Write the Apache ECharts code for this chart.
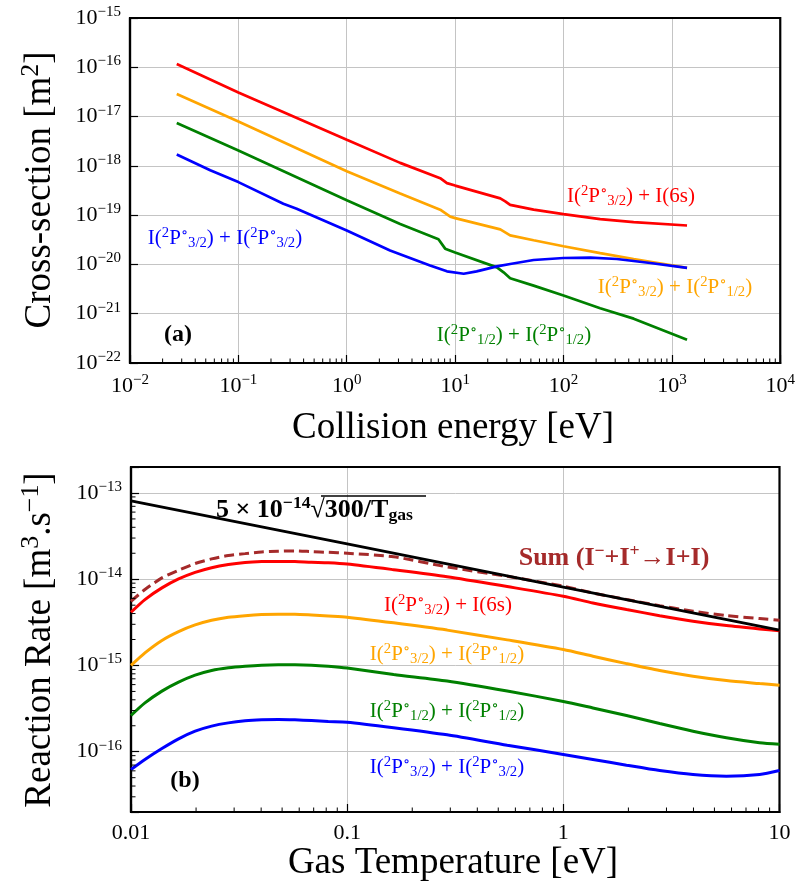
<!DOCTYPE html>
<html>
<head>
<meta charset="utf-8">
<script src="https://cdn.jsdelivr.net/npm/echarts@6/dist/echarts.min.js"></script>
<style>html,body{margin:0;padding:0;background:#fff}#c{width:798px;height:892px}</style>
</head>
<body>
<div id="c"></div>
<script>
// ---------- Panel (a): cross-sections [m^2] vs collision energy [eV] ----------
var energyRed    = [0.027, 0.1, 1, 3.11, 7.28, 8.4, 10, 26.1, 29, 32.2, 53, 100, 218, 444, 1380];
var sigmaRed     = [1.17e-16, 3.09e-17, 3.39e-18, 1.15e-18, 5.62e-19, 4.47e-19, 3.98e-19, 2.19e-19, 1.91e-19, 1.62e-19, 1.29e-19, 1.05e-19, 8.3e-20, 7.24e-20, 6.17e-20];
var energyOrange = [0.027, 0.1, 1, 3.11, 7.28, 9.02, 10, 26.1, 32.2, 53, 100, 218, 444, 1380];
var sigmaOrange  = [2.88e-17, 7.94e-18, 7.76e-19, 2.75e-19, 1.29e-19, 9.33e-20, 8.71e-20, 5.13e-20, 3.89e-20, 3.09e-20, 2.34e-20, 1.70e-20, 1.29e-20, 8.51e-21];
var energyGreen  = [0.027, 0.1, 1, 3.11, 7.02, 8.09, 10, 24.3, 28, 32.2, 53, 100, 218, 444, 1380];
var sigmaGreen   = [7.41e-18, 2.04e-18, 2.0e-19, 6.61e-20, 3.24e-20, 2.09e-20, 1.74e-20, 8.71e-21, 6.92e-21, 5.25e-21, 3.72e-21, 2.34e-21, 1.29e-21, 7.94e-22, 2.95e-22];
var energyBlue   = [0.027, 0.055, 0.1, 0.26, 0.345, 1, 2.51, 5.87, 8.4, 12, 15.8, 24.3, 32.2, 53, 100, 177, 311, 631, 1380];
var sigmaBlue    = [1.70e-18, 8.13e-19, 4.68e-19, 1.70e-19, 1.35e-19, 4.9e-20, 1.91e-20, 9.55e-21, 7.24e-21, 6.46e-21, 7.24e-21, 9.12e-21, 1.02e-20, 1.23e-20, 1.35e-20, 1.38e-20, 1.29e-20, 1.07e-20, 8.51e-21];

// ---------- Panel (b): reaction rates [m^3/s] vs gas temperature [eV] ----------
var temps      = [0.01, 0.0116, 0.0139, 0.0166, 0.0198, 0.0236, 0.0282, 0.0337, 0.0402, 0.048, 0.0573, 0.0684, 0.0817, 0.1, 0.164, 0.29, 0.55, 1, 1.37, 1.96, 2.79, 3.98, 5.68, 8.09, 10];
var rateRed    = [4.14e-15, 5.81e-15, 7.93e-15, 1.007e-14, 1.20e-14, 1.36e-14, 1.48e-14, 1.56e-14, 1.60e-14, 1.61e-14, 1.60e-14, 1.57e-14, 1.55e-14, 1.50e-14, 1.29e-14, 1.07e-14, 8.22e-15, 6.35e-15, 5.31e-15, 4.45e-15, 3.78e-15, 3.26e-15, 2.90e-15, 2.65e-15, 2.53e-15];
var rateSum    = [5.55e-15, 7.59e-15, 1.035e-14, 1.27e-14, 1.52e-14, 1.72e-14, 1.88e-14, 1.98e-14, 2.07e-14, 2.11e-14, 2.13e-14, 2.09e-14, 2.05e-14, 2.0e-14, 1.82e-14, 1.39e-14, 1.08e-14, 8.30e-15, 6.93e-15, 5.81e-15, 4.94e-15, 4.26e-15, 3.78e-15, 3.50e-15, 3.34e-15];
var rateOrange = [1.0e-15, 1.40e-15, 1.95e-15, 2.47e-15, 2.95e-15, 3.34e-15, 3.62e-15, 3.78e-15, 3.89e-15, 3.93e-15, 3.93e-15, 3.85e-15, 3.75e-15, 3.63e-15, 3.12e-15, 2.57e-15, 1.98e-15, 1.53e-15, 1.28e-15, 1.05e-15, 8.73e-16, 7.50e-16, 6.68e-16, 6.17e-16, 5.90e-16];
var rateGreen  = [2.63e-16, 3.68e-16, 5.04e-16, 6.40e-16, 7.71e-16, 8.73e-16, 9.38e-16, 9.79e-16, 1.007e-15, 1.016e-15, 1.016e-15, 1.007e-15, 9.79e-16, 9.33e-16, 7.87e-16, 6.61e-16, 5.05e-16, 3.83e-16, 3.22e-16, 2.63e-16, 2.12e-16, 1.73e-16, 1.45e-16, 1.27e-16, 1.22e-16];
var rateBlue   = [6.22e-17, 8.13e-17, 1.089e-16, 1.41e-16, 1.73e-16, 1.98e-16, 2.16e-16, 2.28e-16, 2.34e-16, 2.36e-16, 2.34e-16, 2.30e-16, 2.24e-16, 2.20e-16, 1.90e-16, 1.57e-16, 1.19e-16, 9.29e-17, 8.13e-17, 6.98e-17, 6.05e-17, 5.44e-17, 5.21e-17, 5.44e-17, 6.05e-17];
var tempsRef   = [0.01, 0.1, 1, 10];
var rateRef    = [8.1e-14, 2.57e-14, 8.1e-15, 2.57e-15];

// axis extents (data units)
var xTopRange = [1e-2, 1e4];
var yTopRange = [1e-22, 1e-15];
var xBotRange = [0.01, 10];
var yBotRange = [2e-17, 2e-13];

// ECharts' log axis loses precision below ~1e-20, so panel (a) is plotted in units of 1e-7 m^2
// and its tick labels are shifted back by the same number of decades.
var TOP_SHIFT_DEC = 7;
var TOP_SCALE = Math.pow(10, TOP_SHIFT_DEC);

var SERIF = "'Liberation Serif', 'DejaVu Serif', serif";

function zip(a, b, s) { s = s || 1; return a.map(function (v, i) { return [v, b[i] * s]; }); }

function powLabelShift(shift) {
  return function (v) {
    var e = Math.log10(v), r = Math.round(e);
    if (Math.abs(e - r) > 1e-6) return '';
    r = r - shift;
    return '10{sup|' + (r < 0 ? '\u2212' : '') + Math.abs(r) + '}';
  };
}
function plainLabel(v) {
  var e = Math.log10(v), r = Math.round(e);
  if (Math.abs(e - r) > 1e-6) return '';
  return String(parseFloat(v.toPrecision(3)));
}
// minor tick positions (2..9 x 10^k) inside an axis range
function minorValues(range) {
  var out = [];
  var k0 = Math.floor(Math.log10(range[0])), k1 = Math.ceil(Math.log10(range[1]));
  for (var k = k0; k <= k1; k++) for (var m = 2; m <= 9; m++) {
    var v = m * Math.pow(10, k);
    if (v > range[0] * 1.0001 && v < range[1] * 0.9999) out.push(v);
  }
  return out;
}

var tickRich = {
  sup: { fontSize: 15, fontFamily: SERIF, color: '#000', padding: [0, 0, 12, 0] }
};
function logAxis(gi, range, isX, fmt) {
  return {
    type: 'log', logBase: 10, gridIndex: gi, min: range[0], max: range[1],
    axisLine: { show: true, lineStyle: { color: '#000', width: 2.2 } },
    axisTick: { show: true, inside: true, length: 8, lineStyle: { color: '#000', width: 1.2 } },
    splitLine: { show: true, lineStyle: { color: '#c4c4c4', width: 1 } },
    minorTick: { show: false }, minorSplitLine: { show: false },
    axisLabel: {
      show: true, formatter: fmt, fontFamily: SERIF, fontSize: 22, color: '#000',
      margin: isX ? 10 : 9, rich: tickRich, hideOverlap: false, showMinLabel: true, showMaxLabel: true
    }
  };
}

var lbl = function (color, size) {
  return {
    sup: { fontSize: size * 0.7, fill: color, fontFamily: SERIF, padding: [0, 0, size * 0.5, 0] },
    sub: { fontSize: size * 0.7, fill: color, fontFamily: SERIF, padding: [size * 0.45, 0, 0, 0] },
    n: { fontSize: size, fill: color, fontFamily: SERIF }
  };
};
var boldRich = function (color, size) {
  return {
    sup: { fontSize: size * 0.68, fill: color, fontFamily: SERIF, fontWeight: 'bold', padding: [0, 0, size * 0.5, 0] },
    sub: { fontSize: size * 0.68, fill: color, fontFamily: SERIF, fontWeight: 'bold', padding: [size * 0.45, 0, 0, 0] },
    n: { fontSize: size, fill: color, fontFamily: SERIF, fontWeight: 'bold' }
  };
};
var P32 = '{n|I(}{sup|2}{n|P}{sup|\u2218}{sub|3/2}{n|)}';
var P12 = '{n|I(}{sup|2}{n|P}{sup|\u2218}{sub|1/2}{n|)}';

function textEl(x, y, text, color, size, rot) {
  var el = { type: 'text', x: x, y: y, z: 100,
    style: { text: text, fill: color, font: size + 'px ' + SERIF, align: 'center', verticalAlign: 'middle', rich: lbl(color, size) } };
  if (rot) el.rotation = rot;
  return el;
}
function rateSeries(x, y, style, z) {
  return { type: 'line', xAxisIndex: 1, yAxisIndex: 1, data: zip(x, y), showSymbol: false, smooth: 0.25, lineStyle: style, z: z || 10 };
}

var chart = echarts.init(document.getElementById('c'), null, { renderer: 'canvas' });
var baseGraphic = [
  // axis titles
  textEl(453, 428, '{n|Collision energy [eV]}', '#000', 37),
  textEl(453, 863, '{n|Gas Temperature [eV]}', '#000', 37),
  textEl(40, 190, '{n|Cross-section [m}{sup|2}{n|]}', '#000', 37, Math.PI / 2),
  textEl(40, 640, '{n|Reaction Rate [m}{sup|3}{n|.s}{sup|\u22121}{n|]}', '#000', 37, Math.PI / 2),

  // panel (a) annotations
  textEl(631, 196, P32 + '{n| + I(6s)}', '#ff0000', 21),
  textEl(225, 238, P32 + '{n| + }' + P32, '#0000ff', 21),
  textEl(675, 287, P32 + '{n| + }' + P12, '#ffa500', 21),
  textEl(514, 335, P12 + '{n| + }' + P12, '#008000', 21),
  { type: 'text', x: 178, y: 335, z: 100, style: { text: '{n|(a)}', align: 'center', verticalAlign: 'middle', rich: boldRich('#000', 24) } },

  // panel (b) annotations
  { type: 'text', x: 216, y: 510, z: 100,
    style: { text: '{n|5 \u00d7 10}{sup|\u221214}{n|\u221a300/T}{sub|gas}', align: 'left', verticalAlign: 'middle', rich: boldRich('#000', 26) } },
  { type: 'line', z: 100, shape: { x1: 321, y1: 496, x2: 426, y2: 496 }, style: { stroke: '#000', lineWidth: 1.3 } },
  { type: 'text', x: 614, y: 558, z: 100,
    style: { text: '{n|Sum (I}{sup|\u2212}{n|+I}{sup|+}{n|\u2192I+I)}', align: 'center', verticalAlign: 'middle', rich: boldRich('#a52a2a', 26) } },
  textEl(448, 605, P32 + '{n| + I(6s)}', '#ff0000', 21),
  textEl(447, 654, P32 + '{n| + }' + P12, '#ffa500', 21),
  textEl(447, 711, P12 + '{n| + }' + P12, '#008000', 21),
  textEl(447, 767, P32 + '{n| + }' + P32, '#0000ff', 21),
  { type: 'text', x: 185, y: 781, z: 100, style: { text: '{n|(b)}', align: 'center', verticalAlign: 'middle', rich: boldRich('#000', 24) } }
];

var option = {
  animation: false,
  backgroundColor: '#fff',
  textStyle: { fontFamily: SERIF },
  grid: [
    { left: 130, top: 18, width: 656, height: 345, show: true, borderColor: '#000', borderWidth: 2.2, backgroundColor: 'transparent', z: 4 },
    { left: 131, top: 467, width: 648.5, height: 345, show: true, borderColor: '#000', borderWidth: 2.2, backgroundColor: 'transparent', z: 4 }
  ],
  xAxis: [
    logAxis(0, xTopRange, true, powLabelShift(0)),
    logAxis(1, xBotRange, true, plainLabel)
  ],
  yAxis: [
    logAxis(0, [yTopRange[0] * TOP_SCALE, yTopRange[1] * TOP_SCALE], false, powLabelShift(TOP_SHIFT_DEC)),
    logAxis(1, yBotRange, false, powLabelShift(0))
  ],
  series: [
    { type: 'line', xAxisIndex: 0, yAxisIndex: 0, data: zip(energyRed, sigmaRed, TOP_SCALE), showSymbol: false, lineStyle: { color: '#ff0000', width: 2.7 }, z: 10 },
    { type: 'line', xAxisIndex: 0, yAxisIndex: 0, data: zip(energyOrange, sigmaOrange, TOP_SCALE), showSymbol: false, lineStyle: { color: '#ffa500', width: 2.7 }, z: 10 },
    { type: 'line', xAxisIndex: 0, yAxisIndex: 0, data: zip(energyGreen, sigmaGreen, TOP_SCALE), showSymbol: false, lineStyle: { color: '#008000', width: 2.7 }, z: 10 },
    { type: 'line', xAxisIndex: 0, yAxisIndex: 0, data: zip(energyBlue, sigmaBlue, TOP_SCALE), showSymbol: false, lineStyle: { color: '#0000ff', width: 2.7 }, z: 10 },

    { type: 'line', xAxisIndex: 1, yAxisIndex: 1, data: zip(tempsRef, rateRef), showSymbol: false, lineStyle: { color: '#000', width: 3 }, z: 11 },
    rateSeries(temps, rateSum, { color: '#a52a2a', width: 3, type: [10, 5] }),
    rateSeries(temps, rateRed, { color: '#ff0000', width: 3 }),
    rateSeries(temps, rateOrange, { color: '#ffa500', width: 3 }),
    rateSeries(temps, rateGreen, { color: '#008000', width: 3 }),
    rateSeries(temps, rateBlue, { color: '#0000ff', width: 3 })
  ],
  graphic: baseGraphic
};
chart.setOption(option);

// minor log ticks (inward), positioned through the axes' own scales
function minorTickLines() {
  var els = [];
  function add(p, dx, dy) {
    if (!p || !isFinite(p[0]) || !isFinite(p[1])) return;
    els.push({ type: 'line', z: 60, silent: true,
      shape: { x1: p[0], y1: p[1], x2: p[0] + dx, y2: p[1] + dy }, style: { stroke: '#000', lineWidth: 1 } });
  }
  minorValues(xTopRange).forEach(function (v) {
    add(chart.convertToPixel({ xAxisIndex: 0, yAxisIndex: 0 }, [v, yTopRange[0] * TOP_SCALE]), 0, -4.5);
  });
  minorValues(xBotRange).forEach(function (v) {
    add(chart.convertToPixel({ xAxisIndex: 1, yAxisIndex: 1 }, [v, yBotRange[0]]), 0, -4.5);
  });
  minorValues(yBotRange).forEach(function (v) {
    add(chart.convertToPixel({ xAxisIndex: 1, yAxisIndex: 1 }, [xBotRange[0], v]), 4.5, 0);
  });
  return els;
}
chart.setOption({ graphic: baseGraphic.concat(minorTickLines()) });
</script>
</body>
</html>
